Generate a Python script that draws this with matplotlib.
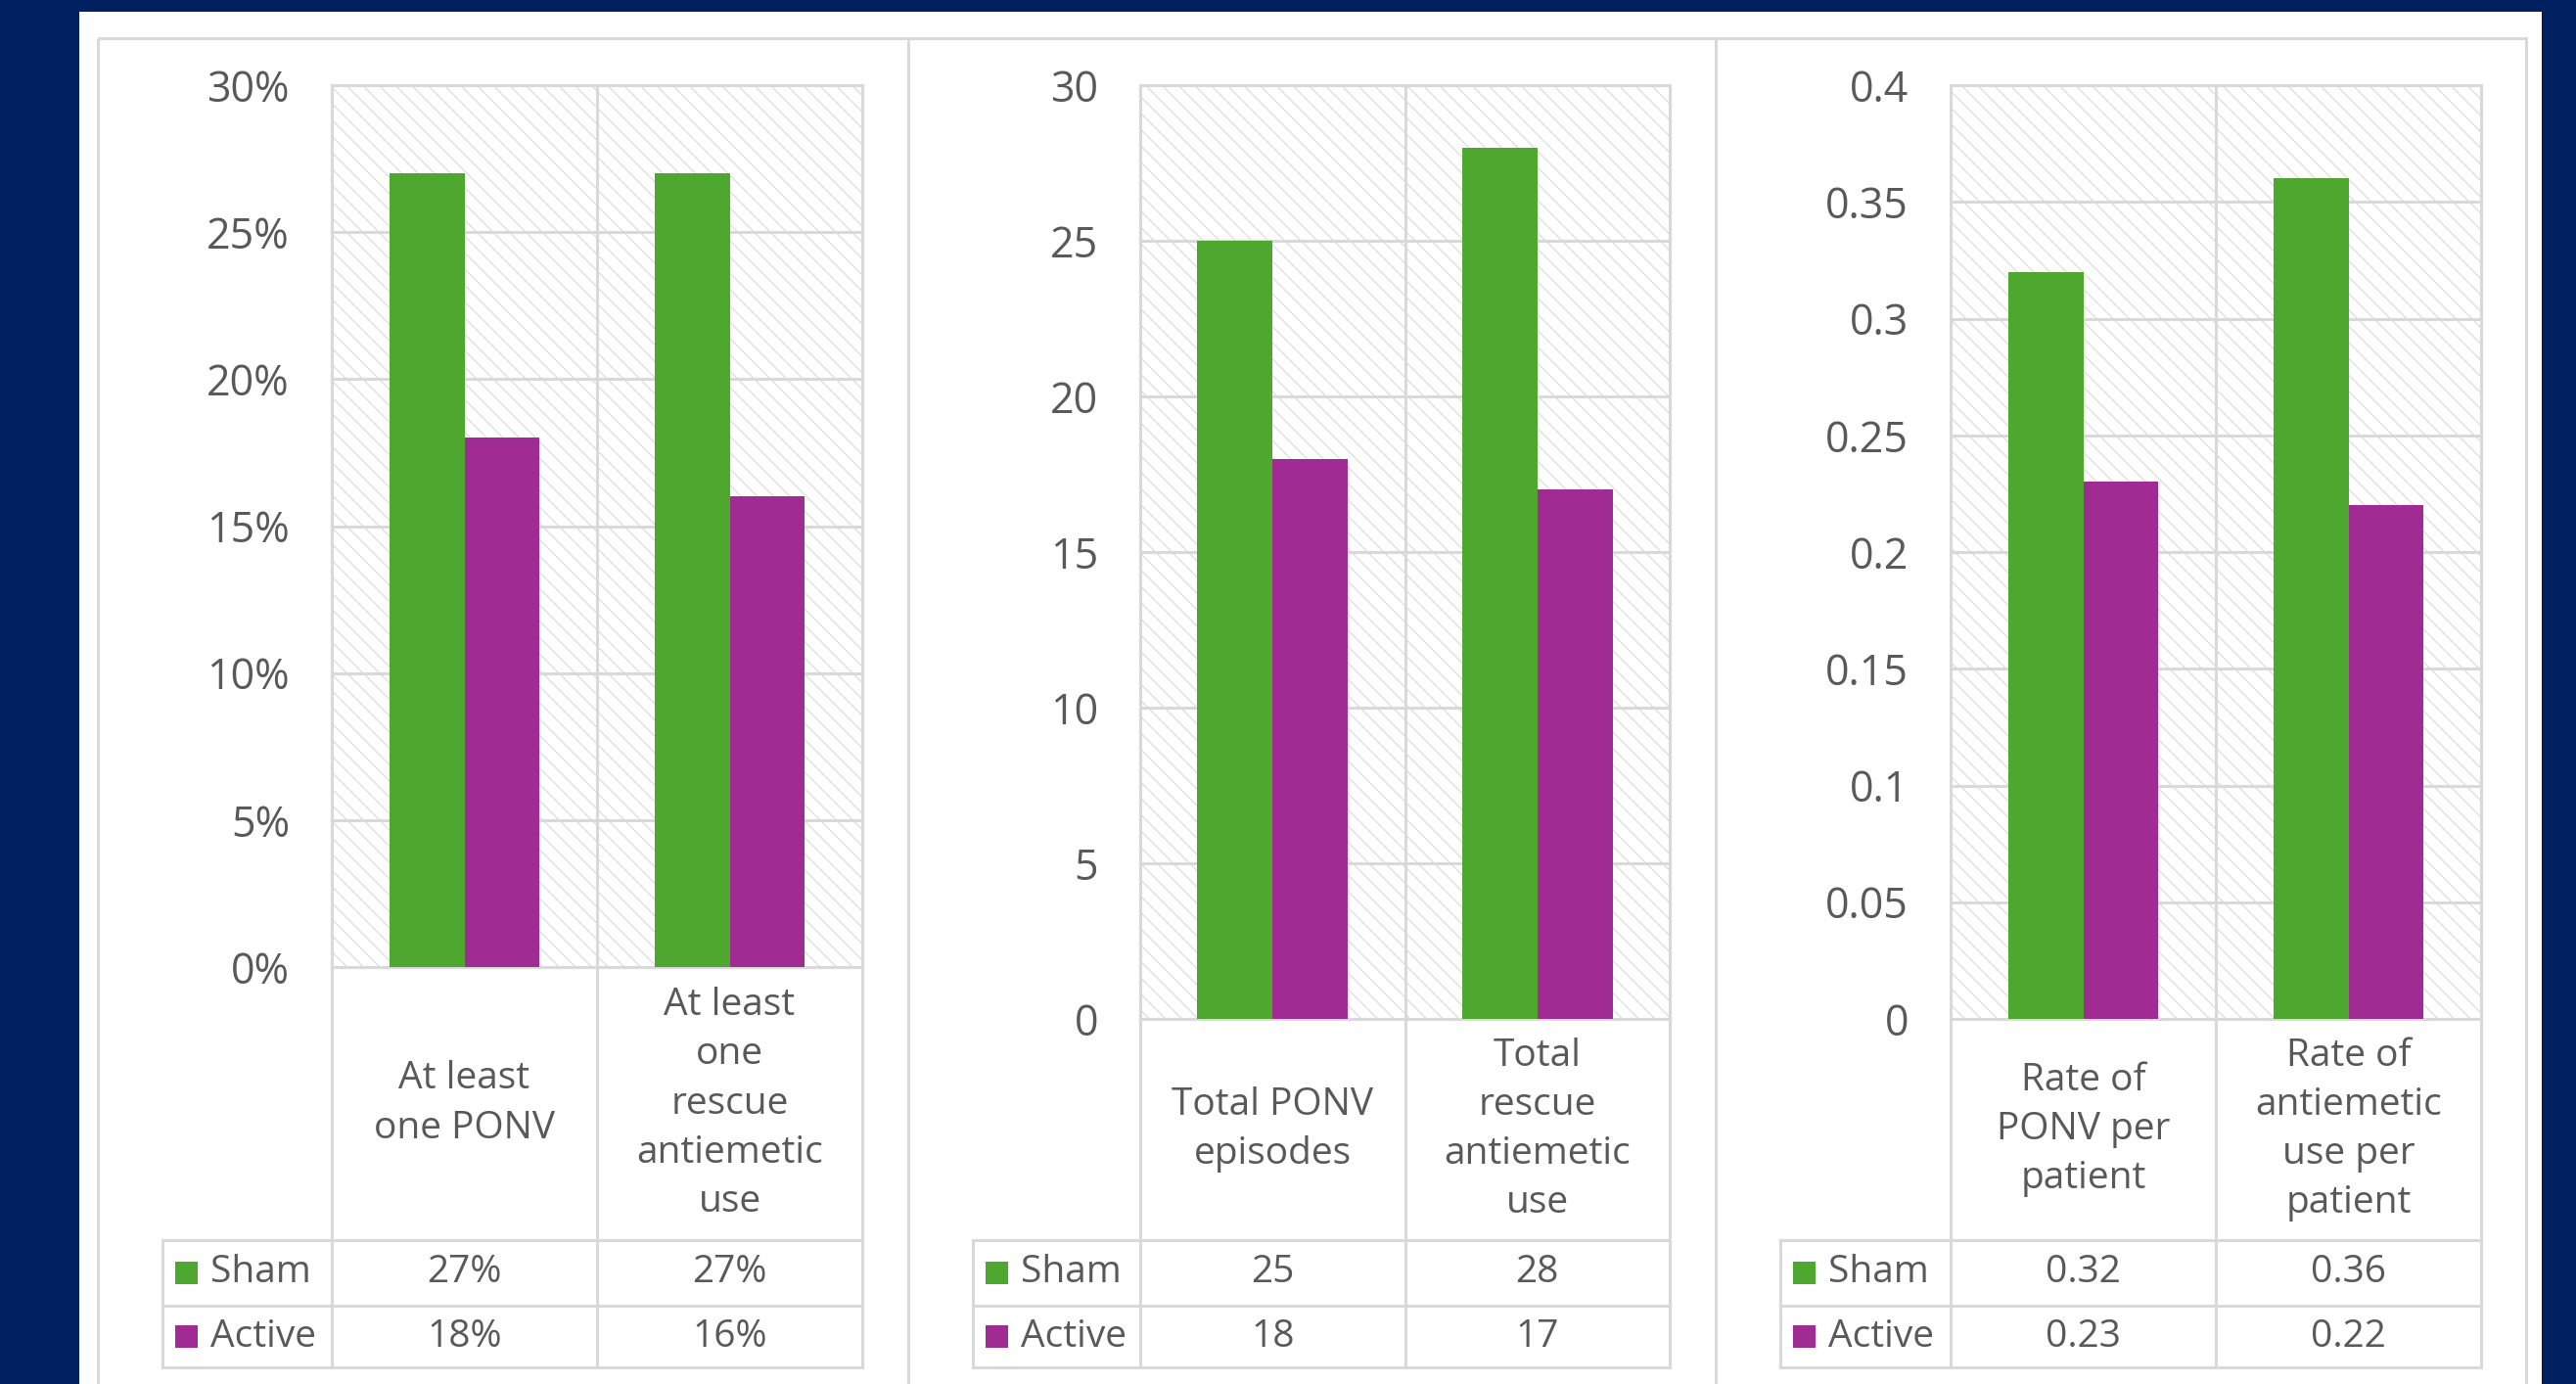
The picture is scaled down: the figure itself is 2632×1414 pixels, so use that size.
import numpy as np
import matplotlib.pyplot as plt
from matplotlib.patches import Rectangle
from matplotlib.transforms import blended_transform_factory

plt.rcParams['font.family'] = ['Open Sans', 'DejaVu Sans']
plt.rcParams['hatch.color'] = '#D9D9D9'
plt.rcParams['hatch.linewidth'] = 0.8

# data
series = ["Sham", "Active"]

cats1 = ["At least\none PONV", "At least\none\nrescue\nantiemetic\nuse"]
sham1 = [0.27, 0.27]
active1 = [0.18, 0.16]

cats2 = ["Total PONV\nepisodes", "Total\nrescue\nantiemetic\nuse"]
sham2 = [25, 28]
active2 = [18, 17]

cats3 = ["Rate of\nPONV per\npatient", "Rate of\nantiemetic\nuse per\npatient"]
sham3 = [0.32, 0.36]
active3 = [0.23, 0.22]

GREEN = '#4EA72E'
PURPLE = '#A02B93'
GRAY = '#D9D9D9'
TXT = '#595959'
NAVY = '#002060'

W, H = 2632, 1414
fig = plt.figure(figsize=(W / 100, H / 100), dpi=100)
fig.patch.set_facecolor(NAVY)

bg = fig.add_axes([0, 0, 1, 1])
bg.set_xlim(0, W)
bg.set_ylim(H, 0)
bg.axis('off')
bg.add_patch(Rectangle((81, 12), 2597 - 81, H, facecolor='white', edgecolor='none'))
bg.add_patch(Rectangle((100, 39), 2581 - 100, H, fill=False, edgecolor=GRAY, lw=2.2))
for xd in (928, 1753):
    bg.plot([xd, xd], [39, H + 5], color=GRAY, lw=2.2)

pct = lambda v: f"{v * 100:.0f}%"
gen = lambda v: f"{v:g}"

# cats, sham, active, ymax, step, fmt, legend-left, plot-left, plot-right, plot-bottom (pixels)
panels = [
    (cats1, sham1, active1, 0.30, 0.05, pct, 166, 339, 881, 988),
    (cats2, sham2, active2, 30, 5, gen, 994, 1165, 1706, 1041),
    (cats3, sham3, active3, 0.4, 0.05, gen, 1819, 1993, 2535, 1041),
]
TOP = 87
ROWS = [1267, 1334, 1397]

for cats, sv, av, ymax, step, fmt, leg, left, right, bottom in panels:
    ax = fig.add_axes([left / W, 1 - bottom / H, (right - left) / W, (bottom - TOP) / H])
    x = np.arange(len(cats))
    bw = 0.284
    ax.bar(x - bw / 2, sv, bw, color=GREEN, zorder=3)
    ax.bar(x + bw / 2, av, bw, color=PURPLE, zorder=3)
    ax.set_xlim(-0.5, len(cats) - 0.5)
    ax.set_ylim(0, ymax)
    ticks = np.round(np.arange(0, ymax + step / 2, step), 4)
    ax.set_yticks(ticks)
    ax.set_yticklabels([fmt(t) for t in ticks])
    ax.tick_params(axis='y', length=0, pad=31, labelsize=31, labelcolor=TXT)
    ax.set_xticks([])
    ax.patch.set_facecolor('white')
    ax.patch.set_edgecolor(GRAY)
    ax.patch.set_hatch('\\\\')
    ax.patch.set_linewidth(0)
    ax.grid(axis='y', color=GRAY, lw=2.2)
    ax.set_axisbelow(True)
    for s in ax.spines.values():
        s.set_color(GRAY)
        s.set_linewidth(2.2)

    tr = blended_transform_factory(ax.transData, bg.transData)
    # vertical column lines
    for xb in np.arange(len(cats) + 1) - 0.5:
        ax.plot([xb, xb], [TOP, ROWS[-1]], transform=tr, color=GRAY, lw=2.2, clip_on=False, zorder=5)
    bg.plot([leg, leg], [ROWS[0], ROWS[-1]], color=GRAY, lw=2.2)
    for yr in ROWS:
        bg.plot([leg, right], [yr, yr], color=GRAY, lw=2.2)

    # category labels
    for i, c in enumerate(cats):
        ax.text(i, (bottom + ROWS[0]) / 2, c, transform=tr, ha='center', va='center',
                fontsize=28, color=TXT, linespacing=1.42, multialignment='center')

    # data rows with legend keys
    for name, vals, col, y0, y1 in [(series[0], sv, GREEN, ROWS[0], ROWS[1]),
                                    (series[1], av, PURPLE, ROWS[1], ROWS[2])]:
        yc = (y0 + y1) / 2
        bg.add_patch(Rectangle((leg + 13, yc - 11.5), 23, 23, facecolor=col, edgecolor='none'))
        bg.text(leg + 49, yc, name, ha='left', va='center', fontsize=28, color=TXT)
        for i, v in enumerate(vals):
            ax.text(i, yc, fmt(v), transform=tr, ha='center', va='center',
                    fontsize=28, color=TXT)

fig.savefig('out.png', dpi=100, facecolor=fig.get_facecolor())
